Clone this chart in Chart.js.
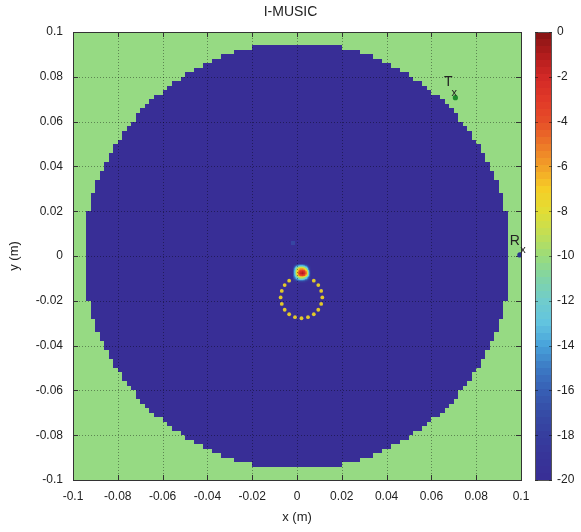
<!DOCTYPE html>
<html>
<head>
<meta charset="utf-8">
<script src="https://cdn.jsdelivr.net/npm/chart.js@4.4.1/dist/chart.umd.min.js"></script>
<style>
  body { margin: 0; background: #fff; }
</style>
</head>
<body>
<canvas id="chartMusic" width="581" height="532"></canvas>
<script>
// Ejes (m)
const axisTicks = [-0.1, -0.08, -0.06, -0.04, -0.02, 0, 0.02, 0.04, 0.06, 0.08, 0.1];
const axisLabels = ['-0.1', '-0.08', '-0.06', '-0.04', '-0.02', '0', '0.02', '0.04', '0.06', '0.08', '0.1'];
const cbTicks = [0, -2, -4, -6, -8, -10, -12, -14, -16, -18, -20];

// Mapa I-MUSIC: disco de fondo (dB) y fuera del disco
const cellSize = 0.002;
const discRadius = 0.095;
const discValue = -20;
const outsideValue = -10.2;

// Pico detectado (celdas de 1 mm)
const spotCell = 0.001;
const spotX = [-0.0016, -0.0006, 0.0004, 0.0014, 0.0024, 0.0034, 0.0044, 0.0054, 0.0064];
const spotY = [-0.0037, -0.0047, -0.0057, -0.0067, -0.0077, -0.0087, -0.0097, -0.0107, -0.0117];
const spotValues = [
  [-20, -19, -17, -16, -16, -17, -19, -20, -20],
  [-19, -15, -12, -11, -11, -12, -15, -19, -20],
  [-17, -12, -8, -6, -6, -7, -11, -17, -20],
  [-16, -11, -6, -3, -2, -3, -7, -14, -20],
  [-16, -11, -5, -2, -1, -2, -6, -13, -20],
  [-16, -12, -7, -4, -3, -4, -8, -14, -20],
  [-17, -14, -11, -9, -9, -10, -13, -17, -20],
  [-19, -17, -15, -14, -14, -15, -17, -19, -20],
  [-20, -20, -19, -19, -19, -19, -20, -20, -20]
];
const faintSpot = { x: -0.0018, y: 0.0058, v: -17.5 };

// Posiciones verdaderas (anillo de puntos amarillos)
const ringX = [0.0113, 0.0108, 0.0095, 0.0075, -0.0035, -0.0055, -0.0068, -0.0073, -0.0068, -0.0055, -0.0035, -0.0009, 0.0020, 0.0049, 0.0075, 0.0095, 0.0108];
const ringY = [-0.0185, -0.0156, -0.0130, -0.0110, -0.0110, -0.0130, -0.0156, -0.0185, -0.0214, -0.0240, -0.0260, -0.0273, -0.0278, -0.0273, -0.0260, -0.0240, -0.0214];

// Transmisor y receptor
const txPoint = { x: 0.0707, y: 0.0707 };
const rxPoint = { x: 0.0995, y: 0.0005 };

// Mapa de colores (barra de color)
const cmapValues = [-20, -19, -18, -17, -16, -15, -14, -13, -12, -11, -10, -9, -8, -7, -6, -5, -4, -3, -2, -1, 0];
const cmapColors = [
  [56, 46, 150], [55, 52, 153], [54, 62, 158], [54, 76, 166], [55, 95, 180], [60, 122, 196],
  [72, 162, 218], [98, 196, 224], [112, 204, 204], [128, 212, 166], [155, 220, 122],
  [195, 222, 84], [226, 222, 52], [246, 205, 38], [242, 160, 40], [236, 118, 40],
  [230, 78, 40], [224, 56, 40], [210, 40, 38], [176, 28, 28], [132, 20, 20]
];

const fontFamily = '"Liberation Sans", Arial, sans-serif';
const textColor = '#222';

function colorFor(v) {
  if (v <= cmapValues[0]) return 'rgb(' + cmapColors[0].join(',') + ')';
  const n = cmapValues.length - 1;
  if (v >= cmapValues[n]) return 'rgb(' + cmapColors[n].join(',') + ')';
  for (let k = 0; k < n; k++) {
    if (v >= cmapValues[k] && v <= cmapValues[k + 1]) {
      const t = (v - cmapValues[k]) / (cmapValues[k + 1] - cmapValues[k]);
      const a = cmapColors[k], b = cmapColors[k + 1];
      return 'rgb(' + [0, 1, 2].map(i => Math.round(a[i] + (b[i] - a[i]) * t)).join(',') + ')';
    }
  }
}

function fillCell(ctx, xs, ys, x0, x1, y0, y1, color) {
  const l = Math.round(xs.getPixelForValue(x0));
  const r = Math.round(xs.getPixelForValue(x1));
  const t = Math.round(ys.getPixelForValue(y1));
  const b = Math.round(ys.getPixelForValue(y0));
  ctx.fillStyle = color;
  ctx.fillRect(l, t, r - l, b - t);
}

// sombreado interpolado del pico (como shading interp)
function spotAt(u, w) {
  const c0 = Math.min(Math.floor(u), spotX.length - 2), r0 = Math.min(Math.floor(w), spotY.length - 2);
  const fu = u - c0, fw = w - r0;
  const m = spotValues;
  const top = m[r0][c0] * (1 - fu) + m[r0][c0 + 1] * fu;
  const bot = m[r0 + 1][c0] * (1 - fu) + m[r0 + 1][c0 + 1] * fu;
  return top * (1 - fw) + bot * fw;
}

// Fondo, mapa de calor, rejilla y barra de color
const heatmapPlugin = {
  id: 'heatmap',
  beforeDraw(chart) {
    const { ctx, chartArea: a, scales: { x, y, cb } } = chart;
    ctx.save();
    ctx.fillStyle = '#fff';
    ctx.fillRect(0, 0, chart.width, chart.height);

    // celdas del mapa
    ctx.beginPath();
    ctx.rect(a.left, a.top, a.right - a.left, a.bottom - a.top);
    ctx.clip();
    const nCells = Math.round(0.2 / cellSize);
    for (let i = 0; i < nCells; i++) {
      const x0 = -0.1 + i * cellSize;
      for (let j = 0; j < nCells; j++) {
        const y0 = -0.1 + j * cellSize;
        const cx = x0 + cellSize / 2, cy = y0 + cellSize / 2;
        const v = (cx * cx + cy * cy <= discRadius * discRadius) ? discValue : outsideValue;
        fillCell(ctx, x, y, x0, x0 + cellSize, y0, y0 + cellSize, colorFor(v));
      }
    }
    fillCell(ctx, x, y, faintSpot.x - spotCell, faintSpot.x + spotCell, faintSpot.y - spotCell, faintSpot.y + spotCell, colorFor(faintSpot.v));
    const sub = 4;
    for (let w = 0; w <= (spotY.length - 1) * sub; w++) {
      for (let u = 0; u <= (spotX.length - 1) * sub; u++) {
        const sx = spotX[0] + (u / sub) * spotCell;
        const sy = spotY[0] - (w / sub) * spotCell;
        const h = spotCell / sub / 2;
        fillCell(ctx, x, y, sx - h, sx + h + 0.0001, sy - h - 0.0001, sy + h, colorFor(spotAt(u / sub, w / sub)));
      }
    }

    // rejilla punteada
    ctx.strokeStyle = 'rgba(0,0,0,0.38)';
    ctx.lineWidth = 1;
    ctx.setLineDash([1, 2]);
    axisTicks.forEach(v => {
      const px = Math.round(x.getPixelForValue(v)) + 0.5;
      const py = Math.round(y.getPixelForValue(v)) + 0.5;
      ctx.beginPath(); ctx.moveTo(px, a.top); ctx.lineTo(px, a.bottom); ctx.stroke();
      ctx.beginPath(); ctx.moveTo(a.left, py); ctx.lineTo(a.right, py); ctx.stroke();
    });
    ctx.restore();

    // marco y marcas interiores
    ctx.save();
    ctx.strokeStyle = '#333';
    ctx.lineWidth = 1;
    ctx.strokeRect(Math.round(a.left) + 0.5, Math.round(a.top) + 0.5, Math.round(a.right - a.left), Math.round(a.bottom - a.top));
    ctx.beginPath();
    axisTicks.forEach(v => {
      const px = Math.round(x.getPixelForValue(v)) + 0.5;
      const py = Math.round(y.getPixelForValue(v)) + 0.5;
      ctx.moveTo(px, a.bottom); ctx.lineTo(px, a.bottom - 5);
      ctx.moveTo(px, a.top); ctx.lineTo(px, a.top + 5);
      ctx.moveTo(a.left, py); ctx.lineTo(a.left + 5, py);
      ctx.moveTo(a.right, py); ctx.lineTo(a.right - 5, py);
    });
    ctx.stroke();
    ctx.restore();

    // barra de color
    ctx.save();
    const bl = Math.round(cb.left) + 14, bw = 17;
    for (let k = 0; k < 64; k++) {
      const v0 = -20 + k * 20 / 64, v1 = v0 + 20 / 64;
      const t = Math.round(cb.getPixelForValue(v1));
      const b = Math.round(cb.getPixelForValue(v0));
      ctx.fillStyle = colorFor((v0 + v1) / 2);
      ctx.fillRect(bl, t, bw, b - t);
    }
    ctx.strokeStyle = '#555';
    ctx.strokeRect(bl + 0.5, Math.round(cb.top) + 0.5, bw - 1, Math.round(cb.bottom - cb.top));
    ctx.strokeStyle = 'rgba(0,0,0,0.45)';
    ctx.setLineDash([3, 2]);
    ctx.beginPath();
    cbTicks.forEach(v => {
      const py = Math.round(cb.getPixelForValue(v)) + 0.5;
      ctx.moveTo(bl, py); ctx.lineTo(bl + 4, py);
      ctx.moveTo(bl + bw, py); ctx.lineTo(bl + bw - 4, py);
    });
    ctx.stroke();
    ctx.restore();
  },
  afterDatasetsDraw(chart) {
    const { ctx, scales: { x, y } } = chart;
    ctx.save();
    ctx.fillStyle = textColor;
    ctx.textAlign = 'center';
    ctx.textBaseline = 'middle';
    const tx = x.getPixelForValue(txPoint.x), ty = y.getPixelForValue(txPoint.y);
    const rx = x.getPixelForValue(rxPoint.x), ry = y.getPixelForValue(rxPoint.y);
    ctx.font = '14px ' + fontFamily;
    ctx.fillText('T', tx - 7, ty - 15);
    ctx.fillText('R', rx - 5, ry - 14);
    ctx.font = '11px ' + fontFamily;
    ctx.fillText('x', tx - 1, ty - 5);
    ctx.fillText('x', rx + 3, ry - 5);
    ctx.restore();
  }
};

// sin margen extra arriba/abajo por las etiquetas de los ejes verticales
function fitVertical(width) {
  return s => {
    s.width = width;
    s.paddingTop = 0;
    s.paddingBottom = 0;
  };
}

const ctx = document.getElementById('chartMusic').getContext('2d');

const chartMusic = new Chart(ctx, {
  type: 'scatter',
  data: {
    datasets: [
      {
        label: 'Posiciones',
        data: ringX.map((v, i) => ({ x: v, y: ringY[i] })),
        pointRadius: 1.9,
        pointBackgroundColor: '#e2c92a',
        pointBorderWidth: 0
      },
      {
        label: 'Tx',
        data: [txPoint],
        pointRadius: 2.6,
        pointBackgroundColor: '#1c8c2c',
        pointBorderWidth: 0
      },
      {
        label: 'Rx',
        data: [rxPoint],
        pointRadius: 2.6,
        pointBackgroundColor: '#2a3490',
        pointBorderWidth: 0
      }
    ]
  },
  options: {
    responsive: false,
    animation: false,
    layout: { padding: 0 },
    plugins: {
      legend: { display: false },
      tooltip: { enabled: false },
      title: {
        display: true,
        text: 'I-MUSIC',
        color: textColor,
        font: { family: fontFamily, size: 14, weight: 'normal' },
        padding: { top: 4, bottom: 11.2 }
      }
    },
    scales: {
      x: {
        type: 'linear',
        min: -0.1,
        max: 0.1,
        afterBuildTicks: s => { s.ticks = axisTicks.map(v => ({ value: v })); },
        afterFit: s => { s.height = 52; },
        grid: { display: false },
        border: { display: false },
        ticks: {
          color: textColor,
          font: { family: fontFamily, size: 12 },
          padding: 1,
          maxRotation: 0,
          callback: (v, i) => axisLabels[i]
        },
        title: {
          display: true,
          text: 'x (m)',
          color: textColor,
          font: { family: fontFamily, size: 13 },
          padding: { top: 0, bottom: 7 }
        }
      },
      y: {
        type: 'linear',
        min: -0.1,
        max: 0.1,
        afterBuildTicks: s => { s.ticks = axisTicks.map(v => ({ value: v })); },
        afterFit: fitVertical(73),
        grid: { display: false },
        border: { display: false },
        ticks: {
          color: textColor,
          font: { family: fontFamily, size: 12 },
          padding: 2,
          callback: (v, i) => axisLabels[i]
        },
        title: {
          display: true,
          text: 'y (m)',
          color: textColor,
          font: { family: fontFamily, size: 13 },
          padding: { top: 7, bottom: 0 }
        }
      },
      cb: {
        type: 'linear',
        position: 'right',
        min: -20,
        max: 0,
        afterBuildTicks: s => { s.ticks = cbTicks.map(v => ({ value: v })); },
        afterFit: fitVertical(60),
        grid: { display: false },
        border: { display: false },
        ticks: {
          color: textColor,
          font: { family: fontFamily, size: 12 },
          padding: 28,
          callback: v => String(v)
        }
      }
    }
  },
  plugins: [heatmapPlugin]
});
</script>
</body>
</html>
